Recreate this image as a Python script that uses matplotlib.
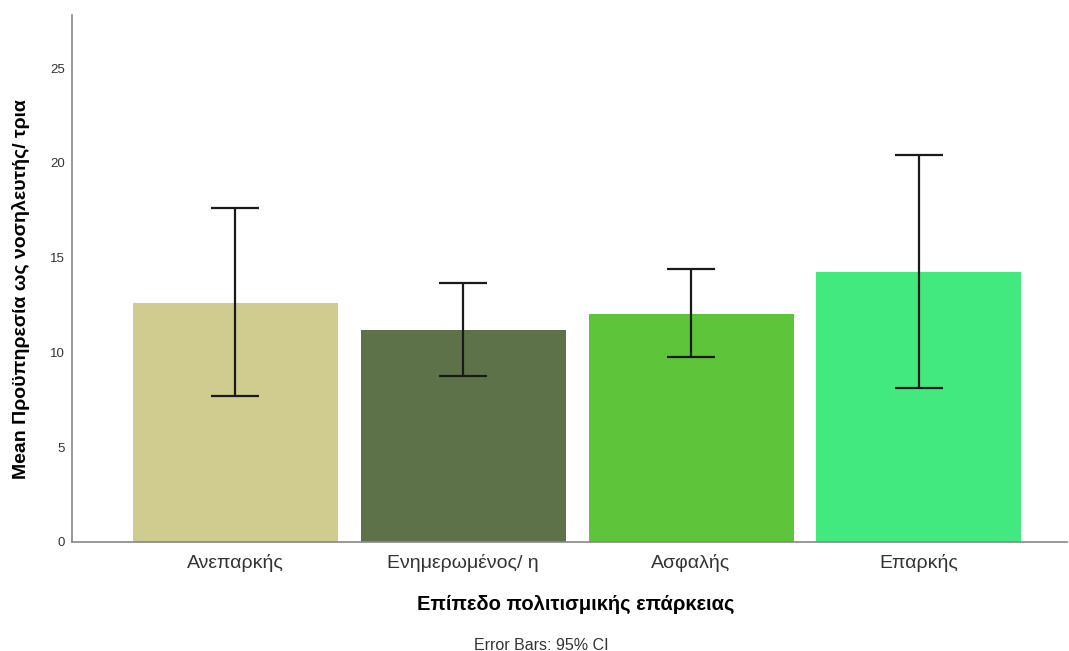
import numpy as np
import matplotlib.pyplot as plt

plt.rcParams['font.family'] = ['Liberation Sans', 'DejaVu Sans']

# Μέσοι όροι και διαστήματα εμπιστοσύνης 95%
categories = ['Ανεπαρκής', 'Ενημερωμένος/ η', 'Ασφαλής', 'Επαρκής']
means = [12.6, 11.2, 12.05, 14.26]
ci_low = [7.68, 8.78, 9.78, 8.14]
ci_high = [17.63, 13.66, 14.38, 20.43]
colors = ['#D0CB8E', '#5D7249', '#5EC439', '#42E97E']

fig = plt.figure(figsize=(10.69, 6.51), dpi=100)
ax = fig.add_axes([72 / 1069, 109 / 651, 995 / 1069, 527 / 651])

x = np.arange(len(categories))
means = np.array(means)
yerr = [means - np.array(ci_low), np.array(ci_high) - means]

ax.bar(x, means, width=0.9, color=colors, zorder=2)
ax.errorbar(x, means, yerr=yerr, fmt='none', ecolor='#1a1a1a',
            elinewidth=1.6, capsize=17.5, capthick=1.6, zorder=3)

ax.set_xlim(-0.717, 3.65)
ax.set_ylim(0, 27.8)
ax.set_yticks([0, 5, 10, 15, 20, 25])
ax.set_xticks(x)
ax.set_xticklabels(categories, fontsize=14, color='#333333')
ax.tick_params(axis='y', length=0, labelsize=9.5, colors='#333333', pad=5)
ax.tick_params(axis='x', length=0, pad=9)

for side in ['top', 'right']:
    ax.spines[side].set_visible(False)
for side in ['left', 'bottom']:
    ax.spines[side].set_color('#888888')
    ax.spines[side].set_linewidth(1.2)

ax.set_xlabel('Επίπεδο πολιτισμικής επάρκειας', fontsize=14.5, fontweight='bold')
ax.set_ylabel('Mean Προϋπηρεσία ως νοσηλευτής/ τρια', fontsize=14,
              fontweight='bold')
ax.xaxis.set_label_coords((576 - 72) / 995, -(595 - 542) / 527)
ax.yaxis.set_label_coords(-(72 - 30) / 995, (542 - 289) / 527)

fig.text(541 / 1069, -2 / 651, 'Error Bars: 95% CI',
         ha='center', va='bottom', fontsize=11.5, color='#333333')

fig.savefig('out.png', dpi=100)
